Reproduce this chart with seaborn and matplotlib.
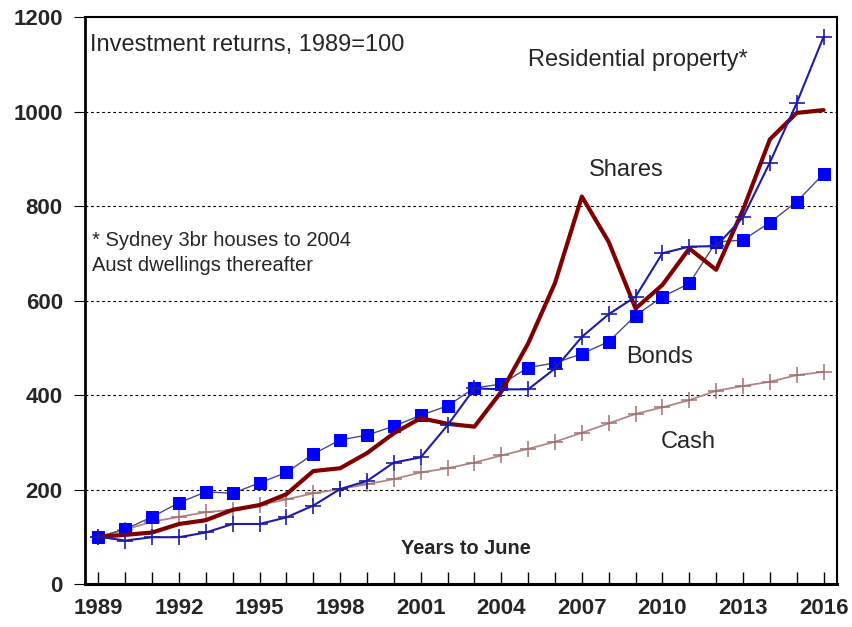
import numpy as np
import pandas as pd
import matplotlib
matplotlib.use("Agg")
import matplotlib.pyplot as plt
import seaborn as sns
from matplotlib.ticker import MultipleLocator
from matplotlib import font_manager

years = list(range(1989, 2017))
residential = [100, 92, 99, 99, 109, 127, 127, 141, 166, 201, 218, 257, 268, 336, 414, 412,
               412, 456, 523, 571, 608, 700, 714, 715, 776, 892, 1018, 1158]
shares = [100, 104, 109, 127, 135, 157, 167, 190, 239, 245, 277, 319, 351, 339, 333, 407,
          509, 637, 820, 724, 583, 633, 710, 665, 792, 941, 997, 1003]
bonds = [100, 116, 142, 172, 195, 192, 214, 236, 275, 305, 315, 334, 357, 377, 415, 423,
         458, 468, 487, 513, 568, 608, 636, 724, 728, 765, 809, 868]
cash = [100, 115, 132, 142, 152, 157, 167, 179, 192, 201, 211, 222, 236, 245, 257, 272,
        286, 301, 320, 340, 360, 374, 389, 409, 419, 428, 442, 449]
y_ticks = [0, 200, 400, 600, 800, 1000, 1200]
x_tick_labels = [1989, 1992, 1995, 1998, 2001, 2004, 2007, 2010, 2013, 2016]

sns.set_theme(style="white")
names = {f.name for f in font_manager.fontManager.ttflist}
narrow = "Liberation Sans Narrow" in names
fam = ['Liberation Sans Narrow', 'Liberation Sans', 'DejaVu Sans'] if narrow else ['Liberation Sans', 'DejaVu Sans']
plt.rcParams['font.family'] = fam
k = 1.22 if narrow else 1.0

fig = plt.figure(figsize=(8.52, 6.27), dpi=100)
ax = fig.add_axes([85/852, 1 - 584/627, (837-85)/852, (584-17)/627])

df = pd.DataFrame({"year": years, "res": residential, "shares": shares,
                   "bonds": bonds, "cash": cash})

sns.lineplot(data=df, x="year", y="cash", ax=ax, color="#b08585", lw=1.3,
             marker="+", markersize=11, markeredgewidth=1.1, markeredgecolor="#a07070")
sns.lineplot(data=df, x="year", y="bonds", ax=ax, color="#4a4a80", lw=1.0,
             marker="s", markersize=9, markerfacecolor="#0000ff", markeredgecolor="#0000ff")
sns.lineplot(data=df, x="year", y="shares", ax=ax, color="#800000", lw=3.0)
sns.lineplot(data=df, x="year", y="res", ax=ax, color="#1c1ca8", lw=1.5,
             marker="+", markersize=11, markeredgewidth=1.2, markeredgecolor="#1c1ca8")

ax.set_xlim(1988.5, 2016.5)
ax.set_ylim(0, 1200)
ax.set_yticks(y_ticks)
ax.set_xticks(x_tick_labels)
ax.xaxis.set_minor_locator(MultipleLocator(1))
ax.set_xlabel("")
ax.set_ylabel("")

for lab in ax.get_xticklabels() + ax.get_yticklabels():
    lab.set_fontweight("bold")
    lab.set_fontsize(16 * k)

ax.tick_params(axis="x", which="both", direction="in", length=9, width=1, color="black",
               bottom=True, pad=10)
ax.tick_params(axis="y", which="major", direction="out", length=8, width=0.8, color="black",
               left=True, pad=8)

for y in y_ticks[1:-1]:
    ax.axhline(y, color="black", lw=0.8, ls=(0, (2.5, 2.5)), zorder=0)

for side in ["left", "bottom", "top", "right"]:
    ax.spines[side].set_visible(True)
    ax.spines[side].set_color("black")
ax.spines["left"].set_linewidth(2)
ax.spines["bottom"].set_linewidth(2.2)
ax.spines["top"].set_linewidth(1.5)
ax.spines["right"].set_linewidth(1.5)

ax.text(1988.7, 1141, "Investment returns, 1989=100", fontsize=17 * k, va="center", ha="left")
ax.text(2005.0, 1109, "Residential property*", fontsize=17 * k, va="center", ha="left")
ax.text(2007.25, 876, "Shares", fontsize=17 * k, va="center", ha="left")
ax.text(1988.75, 728, "* Sydney 3br houses to 2004", fontsize=14.5 * k, va="center", ha="left")
ax.text(1988.75, 675, "Aust dwellings thereafter", fontsize=14.5 * k, va="center", ha="left")
ax.text(2008.66, 480, "Bonds", fontsize=17 * k, va="center", ha="left")
ax.text(2009.93, 300, "Cash", fontsize=17 * k, va="center", ha="left")
ax.text(2002.67, 76, "Years to June", fontsize=14.4 * k, fontweight="bold", va="center", ha="center")

fig.savefig("out.png", dpi=100)
